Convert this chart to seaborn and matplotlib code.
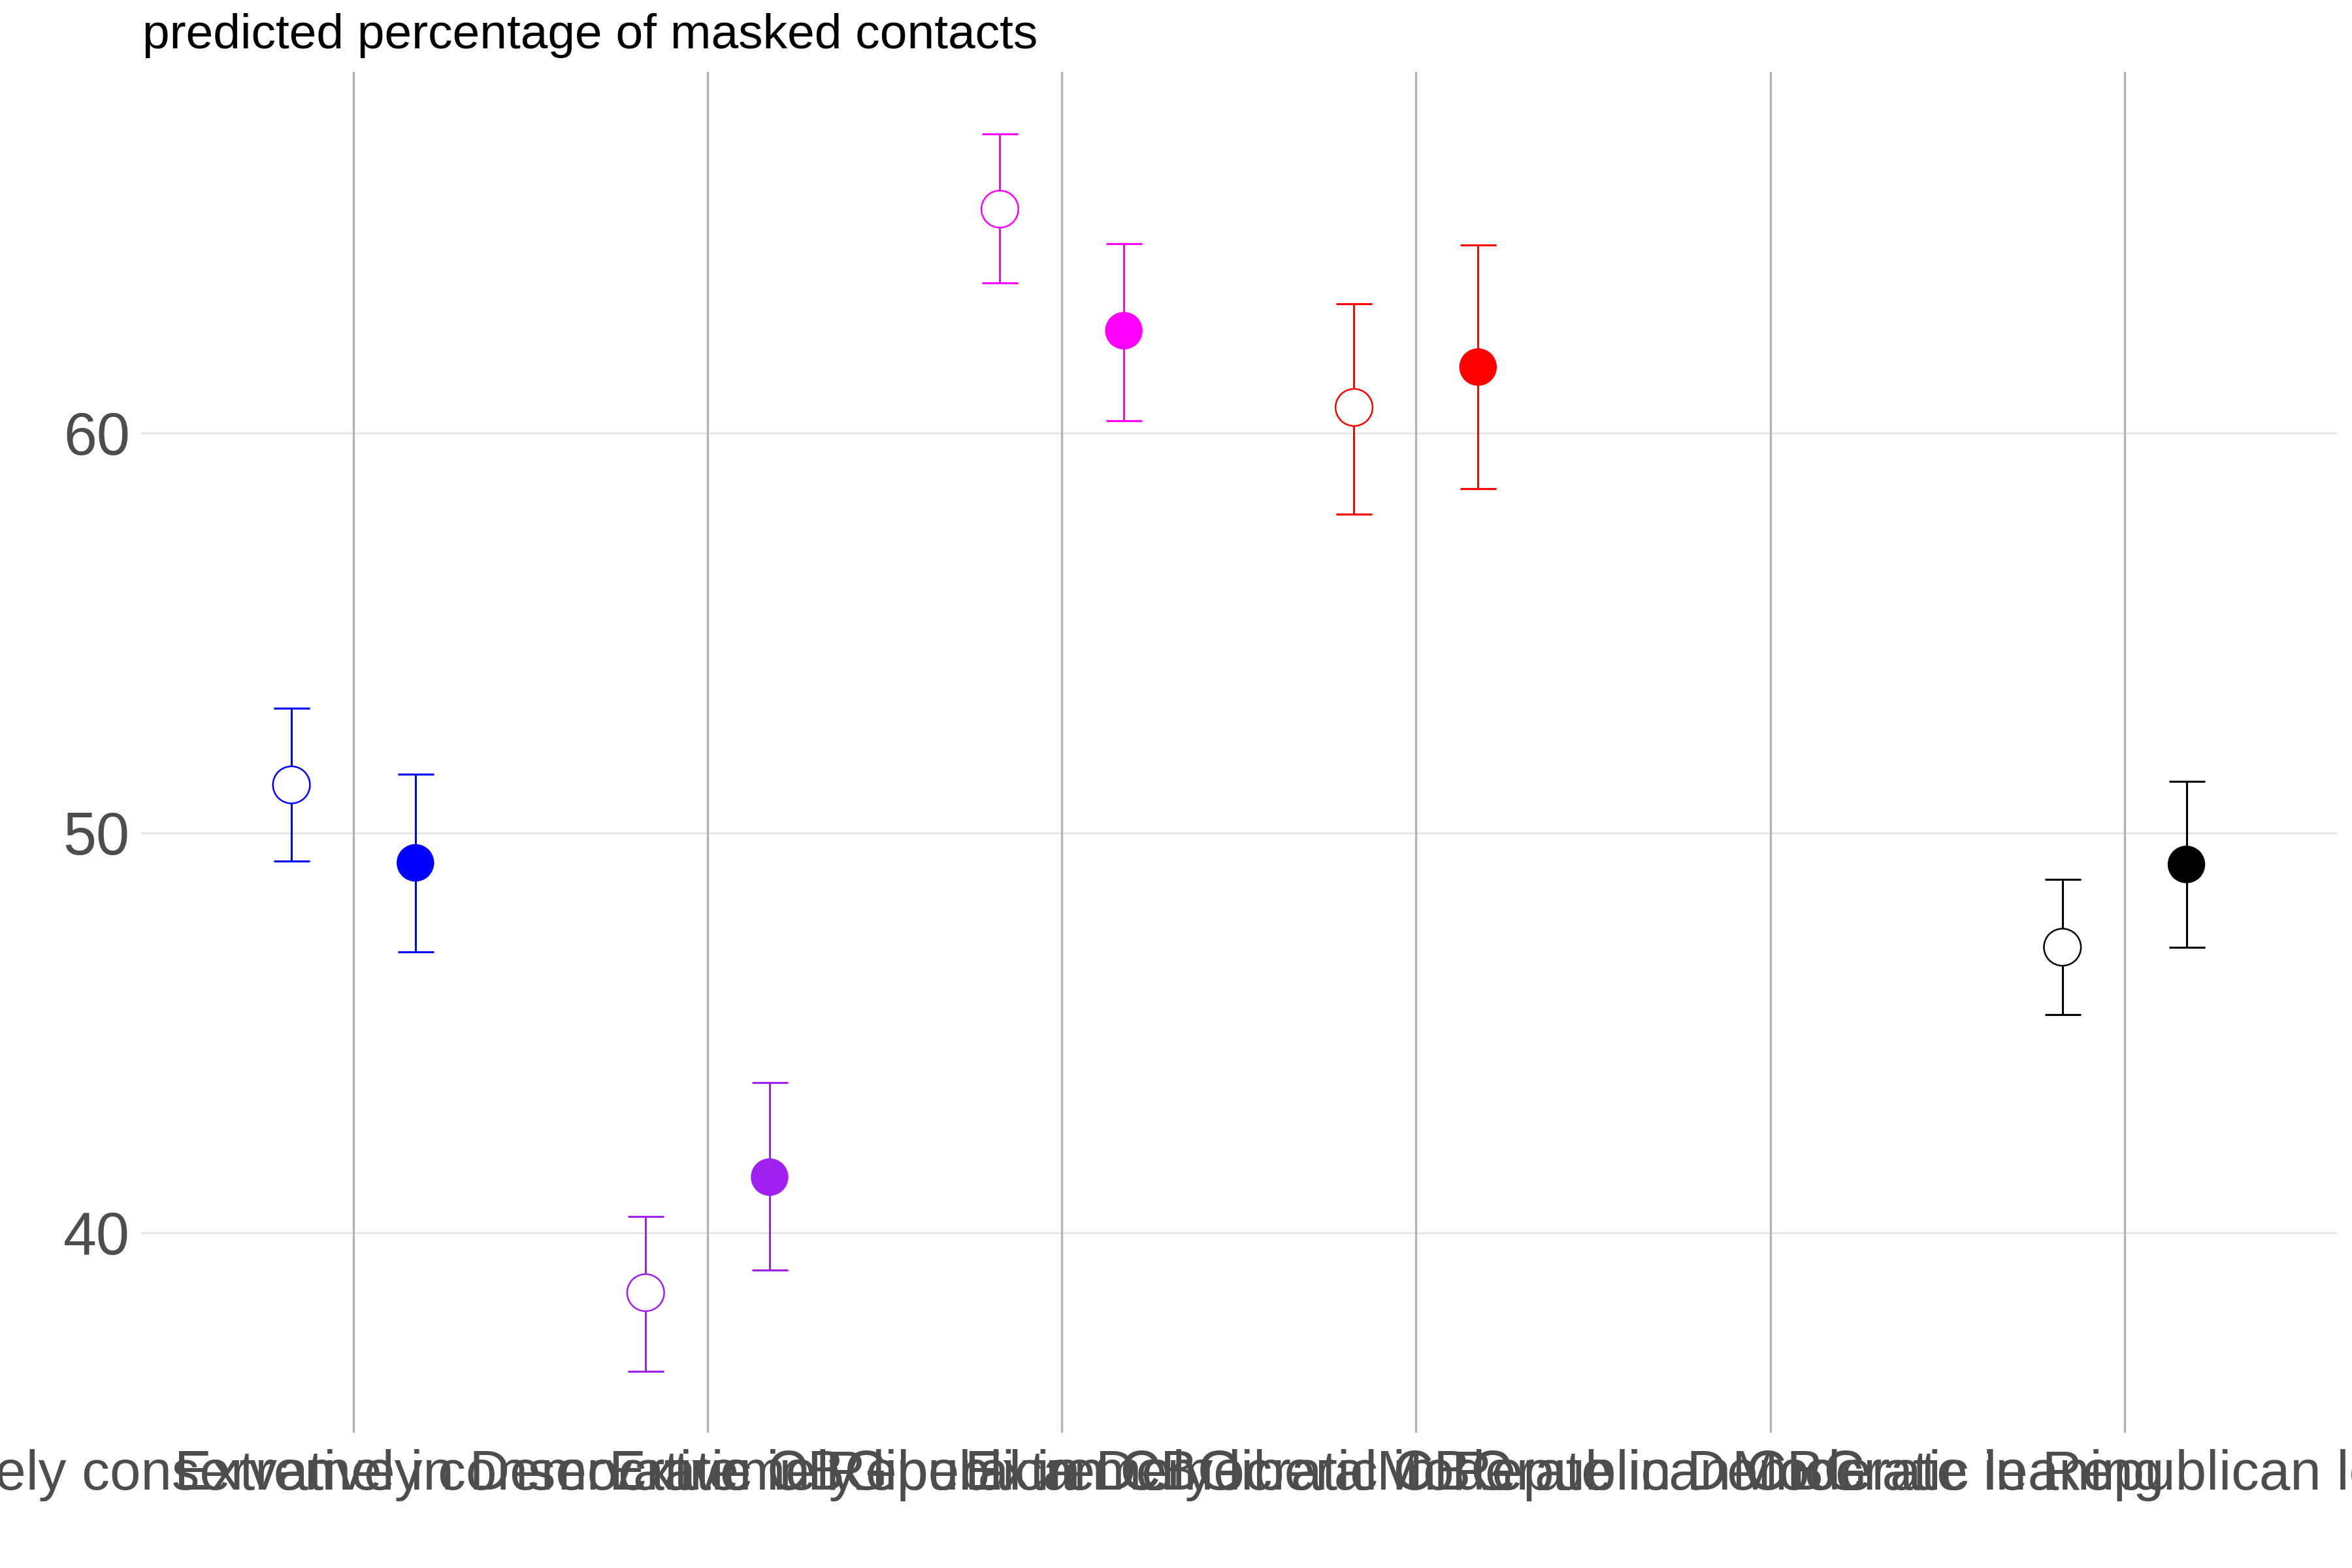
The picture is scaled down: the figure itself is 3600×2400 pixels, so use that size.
import numpy as np
import pandas as pd
import seaborn as sns
import matplotlib.pyplot as plt

# categories on the x axis (5th has no estimate)
categories = ["Extremely conservative in Democratic CBG",
              "Extremely conservative in Republican CBG",
              "Extremely liberal in Democratic CBG",
              "Extremely liberal in Republican CBG",
              "Moderate in Democratic leaning",
              "Moderate in Republican leaning"]
colors = ["#0000FF", "#A020F0", "#FF00FF", "#FF0000", "#00A000", "#000000"]

# open circles (left of each category)
open_mean = [51.2, 38.5, 65.6, 60.64, np.nan, 47.14]
open_lo = [49.29, 36.54, 63.76, 57.97, np.nan, 45.45]
open_hi = [53.12, 40.41, 67.48, 63.23, np.nan, 48.83]
# filled circles (right of each category)
filled_mean = [49.25, 41.39, 62.56, 61.65, np.nan, 49.21]
filled_lo = [47.03, 39.06, 60.30, 58.61, np.nan, 47.14]
filled_hi = [51.47, 43.76, 64.74, 64.70, np.nan, 51.28]

dodge = 0.175

rows = []
for i, cat in enumerate(categories):
    rows.append(dict(category=cat, group="open", x=i - dodge,
                     mean=open_mean[i], lo=open_lo[i], hi=open_hi[i]))
    rows.append(dict(category=cat, group="filled", x=i + dodge,
                     mean=filled_mean[i], lo=filled_lo[i], hi=filled_hi[i]))
df = pd.DataFrame(rows)
pal = dict(zip(categories, colors))

sns.set_theme(style="white")
plt.rcParams['font.family'] = ['Liberation Sans', 'DejaVu Sans']

fig = plt.figure(figsize=(12, 8), dpi=300)
ax = fig.add_axes([0.0599, 0.0861, 0.9337, 0.868])

# error bars
for _, r in df.dropna().iterrows():
    ax.errorbar(r["x"], r["mean"], yerr=[[r["mean"] - r["lo"]], [r["hi"] - r["mean"]]],
                fmt="none", ecolor=pal[r["category"]], elinewidth=0.75,
                capsize=6.6, capthick=0.75, zorder=2)

# filled points
sub = df[df["group"] == "filled"].dropna()
sns.scatterplot(data=sub, x="x", y="mean", hue="category", palette=pal,
                s=190, linewidth=0, legend=False, ax=ax, zorder=3)
# open points
sub = df[df["group"] == "open"].dropna()
ax.scatter(sub["x"], sub["mean"], s=185, facecolors="white",
           edgecolors=[pal[c] for c in sub["category"]], linewidths=0.6, zorder=3)

ax.set_xlim(-0.6, 5.6)
ax.set_ylim(34.99, 69.03)
ax.set_xticks(range(len(categories)))
ax.set_xticklabels(categories)
ax.set_yticks([40, 50, 60])
ax.tick_params(axis="both", length=0, colors="#4D4D4D")
ax.tick_params(axis="x", pad=6, labelsize=20.5)
ax.tick_params(axis="y", pad=4, labelsize=22)

ax.grid(False)
for v in [40, 50, 60]:
    ax.axhline(v, color="#E3E3E3", linewidth=0.6, zorder=0)
for i in range(len(categories)):
    ax.axvline(i, color="#B3B3B3", linewidth=0.8, zorder=0)
for s in ax.spines.values():
    s.set_visible(False)

ax.set_xlabel("")
ax.set_ylabel("")
fig.text(0.0605, 0.969, "predicted percentage of masked contacts",
         fontsize=18, color="black", ha="left", va="baseline")

fig.savefig("out.png", dpi=300, facecolor="white")
